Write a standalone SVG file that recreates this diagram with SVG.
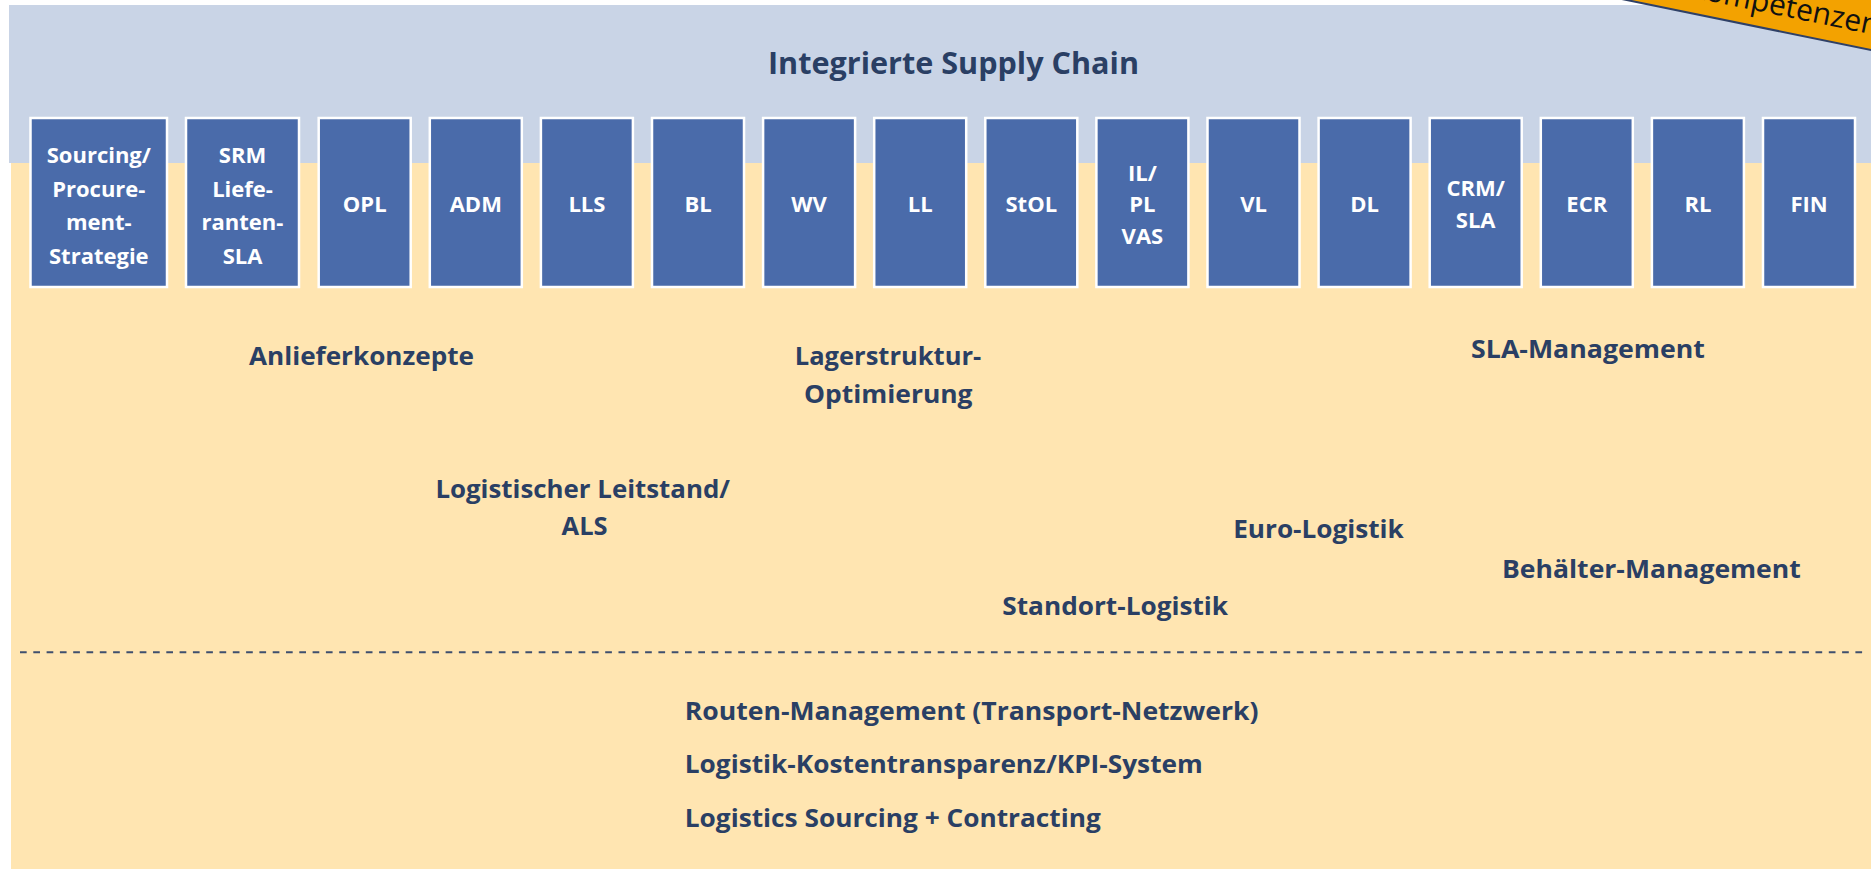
<svg xmlns="http://www.w3.org/2000/svg" width="1871" height="869" viewBox="0 0 1871 869">
<style>
.bx{fill:#4A6BAA;stroke:#FFFFFF;stroke-width:2.5}
.bt{font-family:"Open Sans","Liberation Sans",sans-serif;font-weight:700;font-size:22px;fill:#FFFFFF;text-anchor:middle}
.lb{font-family:"Open Sans","Liberation Sans",sans-serif;font-weight:700;font-size:25px;fill:#2A3F64}
.mid{text-anchor:middle}
.ttl{font-family:"Open Sans","Liberation Sans",sans-serif;font-weight:700;font-size:31px;fill:#2A3F64;text-anchor:middle}
</style>
<rect x="0" y="0" width="1871" height="869" fill="#FFFFFF"/>
<g id="background">
<rect x="9" y="5" width="1862" height="158" fill="#C9D4E6"/>
<rect x="11" y="163" width="1860" height="706" fill="#FFE5B1"/>
</g>
<g id="banner" transform="translate(1626.7,0) rotate(11.56)">
<rect x="-20" y="-80" width="320" height="80" fill="#F3A200"/>
<line x1="-20" y1="0" x2="300" y2="0" stroke="#2F4066" stroke-width="2"/>
<text x="58" y="-15.5" font-family="Open Sans,Liberation Sans,sans-serif" font-size="30" fill="#111111">Kompetenzen</text>
</g>
<text id="title" class="ttl" x="953.5" y="74.3" textLength="371" lengthAdjust="spacingAndGlyphs">Integrierte Supply Chain</text>
<g id="n-sourcing"><rect class="bx" x="30.5" y="118" width="136.5" height="169"/><text class="bt"><tspan x="98.8" y="162.5">Sourcing/</tspan><tspan x="98.8" y="196.5">Procure-</tspan><tspan x="98.8" y="230">ment-</tspan><tspan x="98.8" y="263.5">Strategie</tspan></text></g>
<g id="n-srm"><rect class="bx" x="186" y="118" width="113" height="169"/><text class="bt"><tspan x="242.5" y="162.5">SRM</tspan><tspan x="242.5" y="196.5">Liefe-</tspan><tspan x="242.5" y="230">ranten-</tspan><tspan x="242.5" y="263.5">SLA</tspan></text></g>
<g id="n-opl"><rect class="bx" x="318.7" y="118" width="92" height="169"/><text class="bt" x="364.7" y="212.3">OPL</text></g>
<g id="n-adm"><rect class="bx" x="429.8" y="118" width="92" height="169"/><text class="bt" x="475.8" y="212.3">ADM</text></g>
<g id="n-lls"><rect class="bx" x="540.9" y="118" width="92" height="169"/><text class="bt" x="586.9" y="212.3">LLS</text></g>
<g id="n-bl"><rect class="bx" x="652" y="118" width="92" height="169"/><text class="bt" x="698" y="212.3">BL</text></g>
<g id="n-wv"><rect class="bx" x="763.1" y="118" width="92" height="169"/><text class="bt" x="809.1" y="212.3">WV</text></g>
<g id="n-ll"><rect class="bx" x="874.2" y="118" width="92" height="169"/><text class="bt" x="920.2" y="212.3">LL</text></g>
<g id="n-stol"><rect class="bx" x="985.3" y="118" width="92" height="169"/><text class="bt" x="1031.3" y="212.3">StOL</text></g>
<g id="n-il"><rect class="bx" x="1096.4" y="118" width="92" height="169"/><text class="bt"><tspan x="1142.4" y="180.5">IL/</tspan><tspan x="1142.4" y="212">PL</tspan><tspan x="1142.4" y="243.5">VAS</tspan></text></g>
<g id="n-vl"><rect class="bx" x="1207.5" y="118" width="92" height="169"/><text class="bt" x="1253.5" y="212.3">VL</text></g>
<g id="n-dl"><rect class="bx" x="1318.6" y="118" width="92" height="169"/><text class="bt" x="1364.6" y="212.3">DL</text></g>
<g id="n-crm"><rect class="bx" x="1429.7" y="118" width="92" height="169"/><text class="bt"><tspan x="1475.7" y="196">CRM/</tspan><tspan x="1475.7" y="228">SLA</tspan></text></g>
<g id="n-ecr"><rect class="bx" x="1540.8" y="118" width="92" height="169"/><text class="bt" x="1586.8" y="212.3">ECR</text></g>
<g id="n-rl"><rect class="bx" x="1651.9" y="118" width="92" height="169"/><text class="bt" x="1697.9" y="212.3">RL</text></g>
<g id="n-fin"><rect class="bx" x="1763" y="118" width="92" height="169"/><text class="bt" x="1809" y="212.3">FIN</text></g>
<g id="connectors">
<line x1="20" y1="652.3" x2="1866" y2="652.3" stroke="#3F4F6E" stroke-width="2" stroke-dasharray="6.7 6.6"/>
</g>
<g id="labels">
<text class="lb mid" x="361.5" y="365" textLength="225" lengthAdjust="spacingAndGlyphs">Anlieferkonzepte</text>
<text class="lb mid" x="888" y="365" textLength="186.4" lengthAdjust="spacingAndGlyphs">Lagerstruktur-</text>
<text class="lb mid" x="888.3" y="402.7" textLength="168.5" lengthAdjust="spacingAndGlyphs">Optimierung</text>
<text class="lb mid" x="1588" y="358.3" textLength="233.8" lengthAdjust="spacingAndGlyphs">SLA-Management</text>
<text class="lb mid" x="582.7" y="498.3" textLength="294.6" lengthAdjust="spacingAndGlyphs">Logistischer Leitstand/</text>
<text class="lb mid" x="584.6" y="535" textLength="46" lengthAdjust="spacingAndGlyphs">ALS</text>
<text class="lb mid" x="1318.5" y="538.3" textLength="170.7" lengthAdjust="spacingAndGlyphs">Euro-Logistik</text>
<text class="lb mid" x="1651.4" y="578.3" textLength="298.7" lengthAdjust="spacingAndGlyphs">Behälter-Management</text>
<text class="lb mid" x="1115.2" y="615" textLength="225.8" lengthAdjust="spacingAndGlyphs">Standort-Logistik</text>
<text class="lb" x="684.8" y="720" textLength="573.7" lengthAdjust="spacingAndGlyphs">Routen-Management (Transport-Netzwerk)</text>
<text class="lb" x="684.8" y="773.3" textLength="518" lengthAdjust="spacingAndGlyphs">Logistik-Kostentransparenz/KPI-System</text>
<text class="lb" x="684.8" y="826.7" textLength="416" lengthAdjust="spacingAndGlyphs">Logistics Sourcing + Contracting</text>
</g>
</svg>
